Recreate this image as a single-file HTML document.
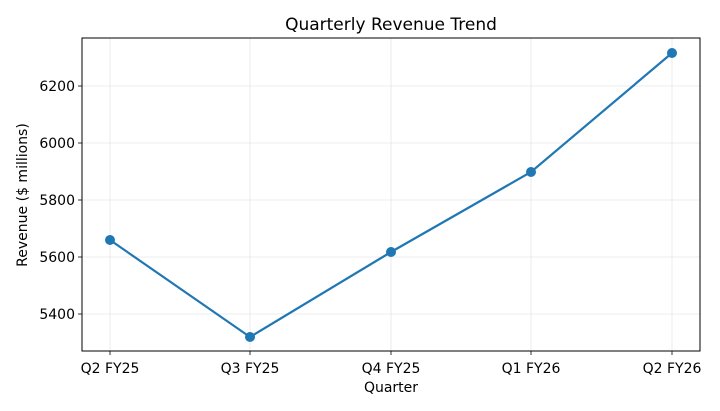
<!DOCTYPE html>
<html><head><style>body{margin:0;background:#fff}svg{display:block}text{font-family:"DejaVu Sans","Liberation Sans",sans-serif;fill:#000}</style></head>
<body>
<svg width="720" height="411" viewBox="0 0 720 411" xmlns="http://www.w3.org/2000/svg">
<rect width="720" height="411" fill="#fff"/>
<g stroke="#e6e6e6" stroke-width="0.8">
<line x1="110" y1="38" x2="110" y2="351"/><line x1="250" y1="38" x2="250" y2="351"/><line x1="391" y1="38" x2="391" y2="351"/><line x1="531" y1="38" x2="531" y2="351"/><line x1="672" y1="38" x2="672" y2="351"/>
<line x1="82" y1="86" x2="700" y2="86"/><line x1="82" y1="143" x2="700" y2="143"/><line x1="82" y1="200" x2="700" y2="200"/><line x1="82" y1="257" x2="700" y2="257"/><line x1="82" y1="314" x2="700" y2="314"/>
</g>
<rect x="82" y="38" width="618" height="313" fill="none" stroke="#000" stroke-width="1"/>
<g stroke="#000" stroke-width="0.8">
<line x1="110" y1="351" x2="110" y2="355"/><line x1="250" y1="351" x2="250" y2="355"/><line x1="391" y1="351" x2="391" y2="355"/><line x1="531" y1="351" x2="531" y2="355"/><line x1="672" y1="351" x2="672" y2="355"/>
<line x1="78" y1="86" x2="82" y2="86"/><line x1="78" y1="143" x2="82" y2="143"/><line x1="78" y1="200" x2="82" y2="200"/><line x1="78" y1="257" x2="82" y2="257"/><line x1="78" y1="314" x2="82" y2="314"/>
</g>
<g font-size="14" text-anchor="middle">
<text x="110" y="373">Q2 FY25</text><text x="250" y="373">Q3 FY25</text><text x="391" y="373">Q4 FY25</text><text x="531" y="373">Q1 FY26</text><text x="672" y="373">Q2 FY26</text>
<text x="391" y="392">Quarter</text>
<text x="391" y="30" font-size="17">Quarterly Revenue Trend</text>
</g>
<g font-size="14" text-anchor="end">
<text x="75" y="91">6200</text><text x="75" y="148">6000</text><text x="75" y="205">5800</text><text x="75" y="262">5600</text><text x="75" y="319">5400</text>
</g>
<text font-size="14" text-anchor="middle" transform="translate(27,195) rotate(-90)">Revenue ($ millions)</text>
<polyline points="110,240 250,337 391,252 531,172 672,53" fill="none" stroke="#1f77b4" stroke-width="2.2"/>
<g fill="#1f77b4"><circle cx="110" cy="240" r="5"/><circle cx="250" cy="337" r="5"/><circle cx="391" cy="252" r="5"/><circle cx="531" cy="172" r="5"/><circle cx="672" cy="53" r="5"/></g>
</svg>
</body></html>
